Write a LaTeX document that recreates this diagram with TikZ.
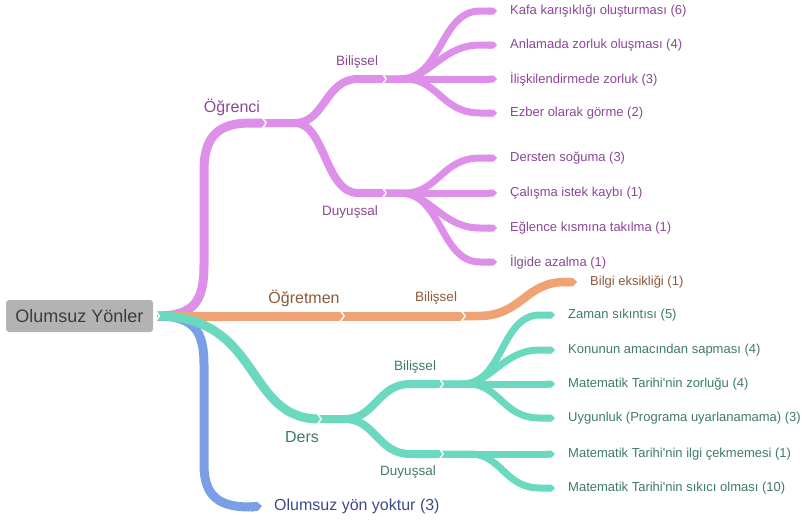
\documentclass[tikz,border=0pt]{standalone}
\usepackage{fontspec}
\setmainfont{Liberation Sans}
\usetikzlibrary{arrows.meta}
\definecolor{pl}{HTML}{DD8FEA}
\definecolor{pt}{HTML}{8A4796}
\definecolor{ol}{HTML}{F0A273}
\definecolor{ot}{HTML}{8A5A3A}
\definecolor{tl}{HTML}{6BD9C0}
\definecolor{tt}{HTML}{3E7A6C}
\definecolor{bl}{HTML}{7B9FE6}
\definecolor{bt}{HTML}{3B4A88}
\definecolor{rootfill}{HTML}{B3B3B3}
\definecolor{roottext}{HTML}{3D3D3D}
\tikzset{
  chevron/.pic={\draw[white,line width=1.4pt] (-2,-5.8) -- (2.2,0) -- (-2,5.8);},
}
\begin{document}
\begin{tikzpicture}[x=1pt,y=-1pt,
  trunk/.style={line width=9pt,line cap=butt},
  midline/.style={line width=8pt,line cap=butt},
  leafline/.style={line width=7pt,-{Triangle Cap}},
  lf/.style={anchor=west,inner sep=0pt,font=\fontsize{13}{15}\selectfont},
  lone/.style={inner sep=0pt,font=\fontsize{16}{19}\selectfont},
  ltwo/.style={inner sep=0pt,font=\fontsize{13.5}{16}\selectfont},
  rootbox/.style={fill=rootfill,text=roottext,rounded corners=3pt,minimum width=147pt,minimum height=32pt,inner sep=0pt,font=\fontsize{18}{21}\selectfont}]
\useasboundingbox (0,0) rectangle (802,520);

% root
\node[rootbox] (root) at (79.5,316) {Olumsuz Yönler};
\coordinate (R) at ([xshift=4pt]root.east);

% junction coordinates
\coordinate (J1) at (264,123);
\coordinate (J2) at (384,79);
\coordinate (J3) at (384,193);
\coordinate (O1) at (342,316);
\coordinate (O2) at (463,316);
\coordinate (T1) at (319,419);
\coordinate (T2) at (441,384);
\coordinate (T3) at (441,454);

% leaves
\node[lf,text=pt] (k1) at (510,11) {Kafa karışıklığı oluşturması (6)};
\node[lf,text=pt] (k2) at (510,45) {Anlamada zorluk oluşması (4)};
\node[lf,text=pt] (k3) at (510,79) {İlişkilendirmede zorluk (3)};
\node[lf,text=pt] (k4) at (510,113) {Ezber olarak görme (2)};
\node[lf,text=pt] (k5) at (510,158) {Dersten soğuma (3)};
\node[lf,text=pt] (k6) at (510,193) {Çalışma istek kaybı (1)};
\node[lf,text=pt] (k7) at (510,228) {Eğlence kısmına takılma (1)};
\node[lf,text=pt] (k8) at (510,262) {İlgide azalma (1)};
\node[lf,text=ot] (b1) at (590,282) {Bilgi eksikliği (1)};
\node[lf,text=tt] (d1) at (568,315) {Zaman sıkıntısı (5)};
\node[lf,text=tt] (d2) at (568,350) {Konunun amacından sapması (4)};
\node[lf,text=tt] (d3) at (568,384) {Matematik Tarihi\textquotesingle nin zorluğu (4)};
\node[lf,text=tt] (d4) at (568,418) {Uygunluk (Programa uyarlanamama) (3)};
\node[lf,text=tt] (d5) at (568,454) {Matematik Tarihi\textquotesingle nin ilgi çekmemesi (1)};
\node[lf,text=tt] (d6) at (568,488) {Matematik Tarihi\textquotesingle nin sıkıcı olması (10)};
\node[lf,text=bt,font=\fontsize{16}{19}\selectfont] (y1) at (274,506) {Olumsuz yön yoktur (3)};

% purple
\draw[trunk,draw=pl] (R) .. controls (195,316) and (204,300) .. (204,265) -- (204,170)
  .. controls (204,135) and (220,123) .. (250,123) -- (J1);
\draw[midline,draw=pl] (J1) -- (295,123) .. controls (325,123) and (325,79) .. (358,79) -- (J2);
\draw[midline,draw=pl] (J1) -- (295,123) .. controls (325,123) and (325,193) .. (358,193) -- (J3);
% purple / Bilissel leaves
\draw[leafline,draw=pl] (J2) -- (400,79) .. controls (442,79) and (440,11) .. (480,11) -- ([xshift=-13pt]k1.west);
\draw[leafline,draw=pl] (J2) -- (400,79) .. controls (430,79) and (442,45) .. (480,45) -- ([xshift=-13pt]k2.west);
\draw[leafline,draw=pl] (J2) -- ([xshift=-13pt]k3.west);
\draw[leafline,draw=pl] (J2) -- (405,79) .. controls (438,79) and (442,113) .. (480,113) -- ([xshift=-13pt]k4.west);
% purple / Duyussal leaves
\draw[leafline,draw=pl] (J3) -- (405,193) .. controls (438,193) and (442,158) .. (480,158) -- ([xshift=-13pt]k5.west);
\draw[leafline,draw=pl] (J3) -- ([xshift=-13pt]k6.west);
\draw[leafline,draw=pl] (J3) -- (400,193) .. controls (430,193) and (442,228) .. (480,228) -- ([xshift=-13pt]k7.west);
\draw[leafline,draw=pl] (J3) -- (400,193) .. controls (442,193) and (440,262) .. (480,262) -- ([xshift=-13pt]k8.west);

% orange
\draw[trunk,draw=ol] (R) -- (O1) -- (O2);
\draw[leafline,line width=8.5pt,draw=ol] (O2) -- (478,316) .. controls (522,316) and (525,282) .. (565,282) -- ([xshift=-13pt]b1.west);

% blue
\draw[trunk,draw=bl] (R) .. controls (195,316) and (204,332) .. (204,365) -- (204,465)
  .. controls (204,497) and (220,507) .. (250,507);
\draw[leafline,line width=9pt,draw=bl] (250,507) -- ([xshift=-12pt]y1.west);

% teal
\draw[trunk,draw=tl] (R) .. controls (262,316) and (245,419) .. (T1);
\draw[midline,draw=tl] (T1) -- (345,419) .. controls (375,419) and (378,384) .. (410,384) -- (T2);
\draw[midline,draw=tl] (T1) -- (345,419) .. controls (375,419) and (378,454) .. (410,454) -- (T3);
% teal / Bilissel leaves
\draw[leafline,draw=tl] (T2) -- (462,384) .. controls (504,384) and (500,315) .. (540,315) -- ([xshift=-13pt]d1.west);
\draw[leafline,draw=tl] (T2) -- (462,384) .. controls (492,384) and (502,350) .. (540,350) -- ([xshift=-13pt]d2.west);
\draw[leafline,draw=tl] (T2) -- ([xshift=-13pt]d3.west);
\draw[leafline,draw=tl] (T2) -- (468,384) .. controls (500,384) and (502,418) .. (540,418) -- ([xshift=-13pt]d4.west);
% teal / Duyussal leaves
\draw[leafline,draw=tl] (T3) -- ([xshift=-13pt]d5.west);
\draw[leafline,draw=tl] (T3) -- (470,454) .. controls (502,454) and (504,488) .. (540,488) -- ([xshift=-13pt]d6.west);

% chevron notches
\foreach \c in {R,J1,J2,J3,O1,O2,T1,T2,T3}
  \pic at (\c) {chevron};

% labels
\node[lone,text=pt] (ogr) at (232,107) {Öğrenci};
\node[ltwo,text=pt] (pb) at (357,62) {Bilişsel};
\node[ltwo,text=pt] (pd) at (350,212) {Duyuşsal};
\node[lone,text=ot] (ogt) at (304,298) {Öğretmen};
\node[ltwo,text=ot] (ob) at (436,298) {Bilişsel};
\node[lone,text=tt] (ders) at (302,437) {Ders};
\node[ltwo,text=tt] (tb) at (415,367) {Bilişsel};
\node[ltwo,text=tt] (td) at (408,472) {Duyuşsal};
\end{tikzpicture}
\end{document}
